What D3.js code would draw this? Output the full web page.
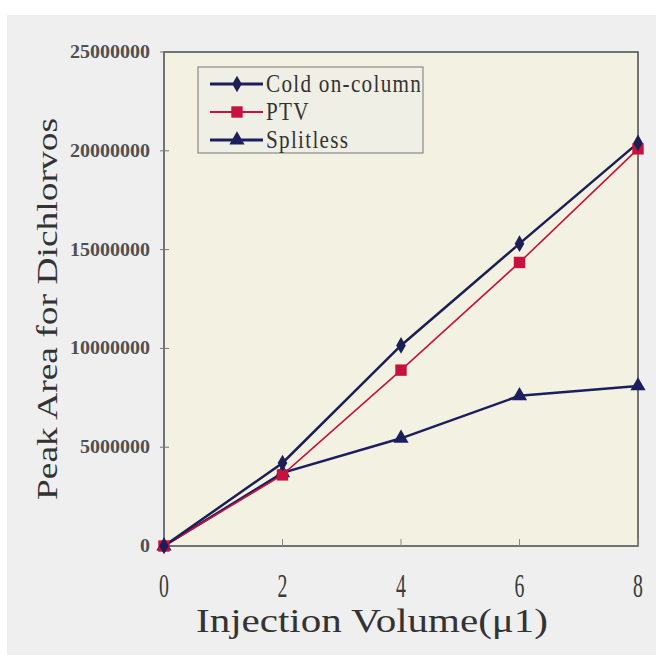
<!DOCTYPE html>
<html><head><meta charset="utf-8">
<script src="https://cdn.jsdelivr.net/npm/d3@7"></script>
<style>body{margin:0;background:#fff;}svg{display:block;}</style>
</head><body>
<svg id="c" width="656" height="660"></svg>
<script>
const volumes = [0, 2, 4, 6, 8];
const coldOnColumn = [0, 4200000, 10150000, 15300000, 20400000];
const ptv = [0, 3600000, 8900000, 14350000, 20100000];
const splitless = [0, 3700000, 5450000, 7600000, 8100000];
const xTicks = [0, 2, 4, 6, 8];
const yTicks = [0, 5000000, 10000000, 15000000, 20000000, 25000000];
const seriesNames = ["Cold on-column", "PTV", "Splitless"];

const svg = d3.select("#c");
const F = "'Liberation Serif', 'DejaVu Serif', serif";
svg.append("rect").attr("x",7).attr("y",15).attr("width",649).attr("height",640).attr("fill","#efefef");

const L=164, R=638, T=52, B=546;
const x = d3.scaleLinear().domain([0,8]).range([L,R]);
const y = d3.scaleLinear().domain([0,25000000]).range([B,T]);

svg.append("rect").attr("x",L).attr("y",T).attr("width",R-L).attr("height",B-T)
  .attr("fill","#f3f1e1").attr("stroke","#4a4a4a").attr("stroke-width",1.5);

// y ticks
const gy = svg.append("g");
yTicks.forEach(v=>{
  gy.append("line").attr("x1",L-4).attr("x2",L+5).attr("y1",y(v)).attr("y2",y(v)).attr("stroke","#777").attr("stroke-width",1);
  const s = String(v);
  gy.append("text").attr("x",L-14).attr("y",y(v)+6)
    .attr("text-anchor","end").attr("font-family",F).attr("font-size",19).attr("font-weight","bold")
    .attr("textLength", s.length*10).attr("lengthAdjust","spacingAndGlyphs")
    .attr("fill","#505050").text(s);
});
// x ticks
const gx = svg.append("g");
xTicks.forEach(v=>{
  gx.append("line").attr("x1",x(v)).attr("x2",x(v)).attr("y1",B-7).attr("y2",B).attr("stroke","#888").attr("stroke-width",1);
  gx.append("text").attr("transform",`translate(${x(v)},${B+51}) scale(0.6,1)`)
    .attr("text-anchor","middle").attr("font-family",F).attr("font-size",33)
    .attr("fill","#3a3a3a").text(v);
});

svg.append("text").attr("x",196).attr("y",632)
  .attr("font-family",F).attr("font-size",33).attr("fill","#333")
  .attr("textLength",352).attr("lengthAdjust","spacingAndGlyphs").text("Injection Volume(\u03bc1)");
svg.append("text").attr("transform","translate(57,500) rotate(-90)")
  .attr("font-family",F).attr("font-size",30).attr("fill","#333")
  .attr("textLength",382).attr("lengthAdjust","spacingAndGlyphs").text("Peak Area for Dichlorvos");

const series = [
  {name:seriesNames[0], vals:coldOnColumn, color:"#1b1f55", lw:2.5, marker:"diamond"},
  {name:seriesNames[1], vals:ptv, color:"#c8123e", lw:1.6, marker:"square"},
  {name:seriesNames[2], vals:splitless, color:"#1b1f5e", lw:2.5, marker:"triangle"}
];
const sym = {diamond:d3.symbolDiamond, square:d3.symbolSquare, triangle:d3.symbolTriangle};
const size = {diamond:80, square:130, triangle:100};
const line = d3.line().x((d,i)=>x(volumes[i])).y(d=>y(d));

[2,1,0].forEach(k=>{
  const s=series[k];
  svg.append("path").attr("d",line(s.vals)).attr("fill","none").attr("stroke",s.color).attr("stroke-width",s.lw);
});
[2,1,0].forEach(k=>{
  const s=series[k];
  svg.selectAll(null).data(s.vals).enter().append("path")
    .attr("d",d3.symbol().type(sym[s.marker]).size(size[s.marker]))
    .attr("transform",(d,i)=>`translate(${x(volumes[i])},${y(d)})`)
    .attr("fill",s.color);
});

// legend
const lg = svg.append("g");
lg.append("rect").attr("x",198).attr("y",67).attr("width",225).attr("height",86)
  .attr("fill","#f0efe6").attr("stroke","#777").attr("stroke-width",1);
series.forEach((s,i)=>{
  const yy = 84 + i*28;
  lg.append("line").attr("x1",210).attr("x2",263).attr("y1",yy).attr("y2",yy).attr("stroke",s.color).attr("stroke-width",s.lw+0.5);
  lg.append("path").attr("d",d3.symbol().type(sym[s.marker]).size(size[s.marker])).attr("transform",`translate(237,${yy})`).attr("fill",s.color);
  lg.append("text").attr("transform",`translate(266,${yy+8}) scale(0.92,1.1)`)
    .attr("font-family",F).attr("font-size",23).attr("letter-spacing",1.4).attr("fill","#333").text(s.name);
});
</script>
</body></html>
